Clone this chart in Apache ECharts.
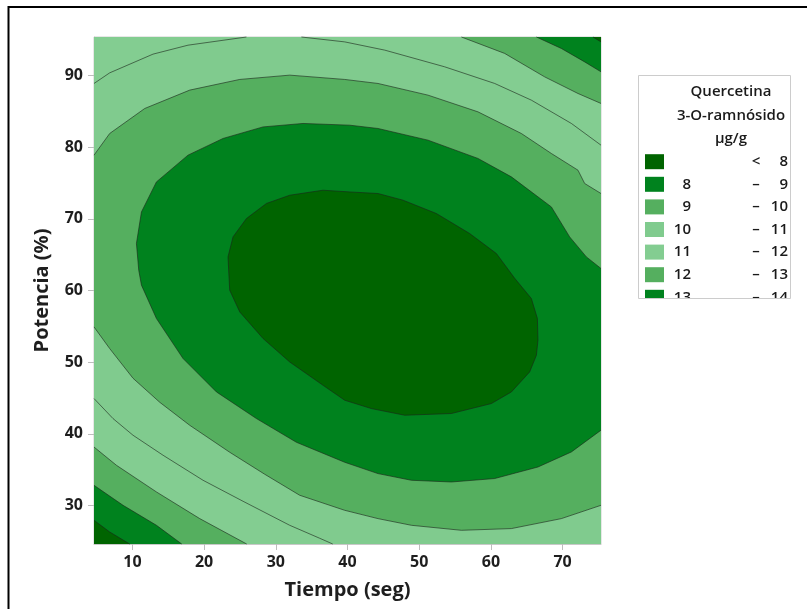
<!DOCTYPE html>
<html>
<head>
<meta charset="utf-8">
<script src="https://cdn.jsdelivr.net/npm/echarts@6/dist/echarts.min.js"></script>
<style>
html,body{margin:0;padding:0;background:#fff;}
#chart{width:807px;height:609px;}
</style>
</head>
<body>
<div id="chart"></div>
<script>
// Axis extents of the design region (centre ± 35.36)
const timeRange = [4.64, 75.36];
const powerRange = [24.64, 95.36];
const timeTicks = [10, 20, 30, 40, 50, 60, 70];
const powerTicks = [30, 40, 50, 60, 70, 80, 90];

// Contour levels of Quercetina 3-O-ramnósido (µg/g)
const levels = [8, 9, 10, 11, 12, 13, 14];
// Band colours: <8, 8–9, 9–10, 10–11, 11–12, 12–13, 13–14, >14
const bandColors = ['#006400', '#00821E', '#55AF5F', '#80CB8E', '#83CD91', '#55AF5F', '#00821E', '#006400'];

// Contour lines, points as [Tiempo (seg), Potencia (%)]
const contour8 = [
  [31.94, 73.29], [36.58, 73.99], [40.31, 73.75], [44.25, 73.53], [47.74, 72.60], [52.40, 70.74],
  [57.04, 67.95], [60.77, 65.16], [63.32, 61.71], [65.65, 58.88], [66.49, 56.09], [66.57, 53.06],
  [66.35, 50.97], [65.41, 48.64], [62.86, 45.85], [60.07, 44.23], [54.49, 42.84], [47.98, 42.60],
  [43.33, 43.53], [39.61, 44.69], [36.58, 46.78], [31.94, 50.03], [28.22, 53.30], [24.97, 57.01],
  [23.57, 60.04], [23.33, 64.69], [24.03, 67.48], [25.90, 70.04], [28.69, 72.14]
];
const contour9 = [
  [75.36, 63.07], [73.32, 64.69], [70.99, 67.48], [68.44, 71.66], [62.86, 75.85], [58.20, 78.42],
  [51.23, 80.97], [44.25, 82.60], [40.31, 83.06], [33.79, 83.30], [28.22, 82.82], [22.64, 81.21],
  [17.75, 78.88], [13.35, 75.15], [11.26, 70.96], [10.56, 66.56], [10.88, 62.83], [11.26, 60.74],
  [13.35, 56.09], [17.06, 50.51], [21.72, 45.85], [27.29, 42.14], [32.87, 38.83], [39.61, 36.04],
  [44.25, 34.46], [48.91, 33.53], [54.49, 33.29], [60.53, 33.77], [66.57, 35.38], [71.23, 37.48],
  [75.36, 40.51]
];
const contour10Top = [
  [4.64, 78.88], [6.83, 81.90], [11.72, 85.39], [17.99, 87.95], [24.97, 89.44], [31.94, 90.04],
  [39.61, 89.44], [44.25, 88.88], [51.23, 87.25], [58.20, 84.92], [64.25, 81.90], [68.44, 79.11],
  [72.15, 76.78], [73.08, 74.93], [75.36, 73.53]
];
const contour10Bottom = [
  [4.64, 54.92], [6.83, 51.90], [10.08, 47.76], [13.81, 44.41], [17.99, 41.20], [23.57, 37.44],
  [28.45, 34.37], [33.33, 31.44], [39.61, 29.34], [44.25, 28.18], [48.91, 27.25], [55.89, 26.55],
  [62.86, 26.79], [69.83, 28.18], [75.36, 30.04]
];
const contour11TopLeft = [
  [4.64, 88.88], [6.83, 90.36], [12.87, 92.97], [17.75, 94.22], [25.90, 95.36]
];
const contour11TopRight = [
  [33.57, 95.36], [39.61, 94.68], [45.19, 93.53], [53.56, 91.20], [60.53, 88.88], [65.65, 86.55],
  [71.23, 83.30], [75.36, 80.27]
];
const contour11Bottom = [
  [4.64, 44.93], [7.29, 42.14], [10.08, 39.81], [14.27, 37.02], [19.85, 33.53], [25.43, 30.60],
  [31.94, 27.25], [36.12, 25.44], [37.94, 24.64]
];
const contour12Top = [[55.89, 95.36], [61.92, 93.07], [67.50, 89.80], [72.15, 87.48], [75.36, 86.09]];
const contour12Bottom = [[4.64, 38.17], [7.77, 35.62], [13.35, 31.90], [19.39, 28.18], [25.94, 24.64]];
const contour13Top = [[66.35, 95.36], [69.83, 93.76], [73.08, 91.89], [75.36, 90.50]];
const contour13Bottom = [[4.64, 32.83], [8.69, 30.04], [13.35, 27.25], [16.88, 24.64]];
const contour14Top = [[74.24, 95.36], [75.36, 94.68]];
const contour14Bottom = [[4.64, 27.95], [6.83, 26.32], [9.62, 24.64]];

const [x0, x1] = timeRange;
const [y0, y1] = powerRange;

// Filled regions, painted in order; each one closes a contour through the plot corners
const fills = [
  { pts: [[x0, y0], [x1, y0], [x1, y1], [x0, y1]], band: 3 },
  { pts: contour10Top.concat(contour10Bottom.slice().reverse()), band: 2 },
  { pts: contour9, band: 1 },
  { pts: contour8, band: 0 },
  { pts: contour11TopLeft.concat([[x0, y1]]), band: 4 },
  { pts: contour11TopRight.concat([[x1, y1]]), band: 4 },
  { pts: contour11Bottom.concat([[x0, y0]]), band: 4 },
  { pts: contour12Top.concat([[x1, y1]]), band: 5 },
  { pts: contour12Bottom.concat([[x0, y0]]), band: 5 },
  { pts: contour13Top.concat([[x1, y1]]), band: 6 },
  { pts: contour13Bottom.concat([[x0, y0]]), band: 6 },
  { pts: contour14Top.concat([[x1, y1]]), band: 7 },
  { pts: contour14Bottom.concat([[x0, y0]]), band: 7 }
];
const lines = [
  { pts: contour8, closed: true },
  { pts: contour9 }, { pts: contour10Top }, { pts: contour10Bottom },
  { pts: contour11TopLeft }, { pts: contour11TopRight }, { pts: contour11Bottom },
  { pts: contour12Top }, { pts: contour12Bottom },
  { pts: contour13Top }, { pts: contour13Bottom },
  { pts: contour14Top }, { pts: contour14Bottom }
];

const FONT = 'Open Sans';
const tickFont = { color: '#1e1e1e', fontSize: 16, fontFamily: FONT, fontWeight: 'bold' };
const nameFont = { color: '#1e1e1e', fontSize: 20, fontFamily: FONT, fontWeight: 'bold' };
const legendFont = { fontSize: 15, fontFamily: FONT, fontWeight: 600, fill: '#1a1a1a' };

// Legend block
const legendLeft = 638, legendTop = 75, legendW = 152, legendH = 223;
const legendItems = [];
legendItems.push({ type: 'rect', z: 10, shape: { x: legendLeft, y: legendTop, width: legendW, height: legendH }, style: { fill: '#fff' } });
['Quercetina', '3-O-ramnósido', 'µg/g'].forEach((t, i) => {
  legendItems.push({ type: 'text', z: 11, x: 731, y: 92 + i * 23.5,
    style: Object.assign({ text: t, align: 'center', verticalAlign: 'middle' }, legendFont) });
});
for (let i = 0; i < levels.length; i++) {
  const cy = 161.7 + i * 22.6;
  const lo = i === 0 ? '' : String(levels[i - 1]);
  const sym = i === 0 ? '<' : '–';
  legendItems.push({ type: 'rect', z: 11, shape: { x: 645, y: cy - 7.5, width: 19, height: 15 }, style: { fill: bandColors[i] } });
  legendItems.push({ type: 'text', z: 11, x: 691, y: cy, style: Object.assign({ text: lo, align: 'right', verticalAlign: 'middle' }, legendFont) });
  legendItems.push({ type: 'text', z: 11, x: 756, y: cy, style: Object.assign({ text: sym, align: 'center', verticalAlign: 'middle' }, legendFont) });
  legendItems.push({ type: 'text', z: 11, x: 788, y: cy, style: Object.assign({ text: String(levels[i]), align: 'right', verticalAlign: 'middle' }, legendFont) });
}
// the legend panel is cut at its lower border
legendItems.push({ type: 'rect', z: 12, shape: { x: legendLeft - 3, y: legendTop + legendH, width: legendW + 10, height: 30 }, style: { fill: '#fff' } });
legendItems.push({ type: 'rect', z: 13, shape: { x: legendLeft + 0.5, y: legendTop + 0.5, width: legendW, height: legendH }, style: { fill: null, stroke: '#cccccc', lineWidth: 1 } });

const chart = echarts.init(document.getElementById('chart'), null, { renderer: 'canvas' });
chart.setOption({
  animation: false,
  backgroundColor: '#fff',
  grid: { left: 94, top: 37, width: 507, height: 507, show: true, borderColor: '#cfcfcf', borderWidth: 1, backgroundColor: 'transparent' },
  xAxis: {
    type: 'value', min: x0, max: x1,
    axisLine: { show: true, onZero: false, lineStyle: { color: '#c8c8c8', width: 1 } },
    axisTick: { show: true, length: 6, customValues: timeTicks, lineStyle: { color: '#bdbdbd' } },
    axisLabel: Object.assign({ customValues: timeTicks, margin: 10 }, tickFont),
    splitLine: { show: false },
    name: 'Tiempo (seg)', nameLocation: 'middle', nameGap: 36, nameTextStyle: nameFont
  },
  yAxis: {
    type: 'value', min: y0, max: y1,
    axisLine: { show: true, onZero: false, lineStyle: { color: '#c8c8c8', width: 1 } },
    axisTick: { show: true, length: 6, customValues: powerTicks, lineStyle: { color: '#bdbdbd' } },
    axisLabel: Object.assign({ customValues: powerTicks, margin: 11 }, tickFont),
    splitLine: { show: false },
    name: 'Potencia (%)', nameLocation: 'middle', nameGap: 42, nameTextStyle: nameFont
  },
  series: [
    {
      type: 'custom', silent: true, z: 2,
      data: fills.map(f => [f.pts[0][0], f.pts[0][1]]),
      encode: { x: 0, y: 1 },
      renderItem: (params, api) => {
        const f = fills[params.dataIndex];
        return { type: 'polygon', shape: { points: f.pts.map(p => api.coord(p)) },
          style: { fill: bandColors[f.band], stroke: null } };
      }
    },
    {
      type: 'custom', silent: true, z: 3,
      data: lines.map(l => [l.pts[0][0], l.pts[0][1]]),
      encode: { x: 0, y: 1 },
      renderItem: (params, api) => {
        const l = lines[params.dataIndex];
        return { type: l.closed ? 'polygon' : 'polyline', shape: { points: l.pts.map(p => api.coord(p)) },
          style: { fill: null, stroke: 'rgba(25,35,25,0.75)', lineWidth: 0.8 } };
      }
    }
  ],
  graphic: [
    { type: 'polyline', z: 20, shape: { points: [[8.5, 609], [8.5, 7], [807, 7]] }, style: { stroke: '#000', lineWidth: 2, fill: null } }
  ].concat(legendItems)
});
</script>
</body>
</html>
